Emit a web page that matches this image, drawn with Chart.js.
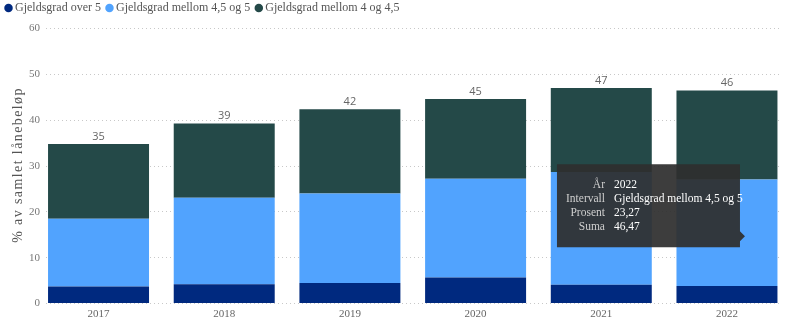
<!DOCTYPE html>
<html>
<head>
<meta charset="utf-8">
<script src="https://cdn.jsdelivr.net/npm/chart.js@4/dist/chart.umd.min.js"></script>
<style>
  html, body { margin: 0; padding: 0; background: #fff; }
  #wrap { width: 800px; height: 325px; position: relative; }
</style>
</head>
<body>
<div id="wrap"><canvas id="c" width="800" height="325"></canvas></div>
<script>
const years = ['2017', '2018', '2019', '2020', '2021', '2022'];
const seriesNames = ['Gjeldsgrad over 5', 'Gjeldsgrad mellom 4,5 og 5', 'Gjeldsgrad mellom 4 og 4,5'];
const over5 = [3.7, 4.2, 4.5, 5.7, 4.1, 3.8];
const mellom45og5 = [14.8, 18.9, 19.5, 21.5, 24.6, 23.27];
const mellom4og45 = [16.3, 16.2, 18.4, 17.4, 18.3, 19.4];
const yTicks = [0, 10, 20, 30, 40, 50, 60];
const yTitle = '% av samlet lånebeløp';
const tooltipLabels = ['År', 'Intervall', 'Prosent', 'Suma'];
const tooltipYearIndex = 5;
const tooltipSeriesIndex = 1;

const colors = ['#00297f', '#51a3fe', '#244948'];
const SERIF = '"Liberation Serif", "Times New Roman", serif';
const SANS = '"Open Sans", "DejaVu Sans", sans-serif';

const fmt = v => v.toFixed(2).replace('.', ',');
const totals = years.map((_, i) => over5[i] + mellom45og5[i] + mellom4og45[i]);
const toPoints = arr => arr.map((v, i) => ({ x: i, y: v }));

const legendShift = {
  id: 'legendShift',
  afterLayout(chart) {
    const l = chart.legend;
    if (l) { l.top -= 4.5; l.bottom -= 4.5; }
  }
};

const yTitlePlugin = {
  id: 'yTitle',
  afterDraw(chart) {
    const ctx = chart.ctx;
    const ca = chart.chartArea;
    ctx.save();
    ctx.translate(18, (ca.top + ca.bottom) / 2 - 1);
    ctx.rotate(-Math.PI / 2);
    ctx.font = '14px ' + SERIF;
    if ('letterSpacing' in ctx) ctx.letterSpacing = '1.4px';
    ctx.fillStyle = '#555';
    ctx.textAlign = 'center';
    ctx.textBaseline = 'middle';
    ctx.fillText(yTitle, 0, 0);
    ctx.restore();
  }
};

const totalsPlugin = {
  id: 'totals',
  afterDatasetsDraw(chart) {
    const ctx = chart.ctx;
    const top = chart.getDatasetMeta(2).data;
    ctx.save();
    ctx.font = '11px ' + SANS;
    ctx.fillStyle = '#666';
    ctx.textAlign = 'center';
    ctx.textBaseline = 'bottom';
    top.forEach((el, i) => {
      ctx.fillText(String(Math.round(totals[i])), el.x, el.y - 2);
    });
    ctx.restore();
  }
};

const tipPlugin = {
  id: 'statictip',
  afterDraw(chart) {
    const el = chart.getDatasetMeta(tooltipSeriesIndex).data[tooltipYearIndex];
    const ctx = chart.ctx;
    const tipX = el.x + 18;
    const tipY = (el.y + el.base) / 2 + 3.5;
    const right = tipX - 5, left = right - 183, top = tipY - 72, bottom = tipY + 11;
    ctx.save();
    ctx.fillStyle = 'rgba(46,46,46,0.93)';
    ctx.beginPath();
    ctx.moveTo(left, top);
    ctx.lineTo(right, top);
    ctx.lineTo(right, tipY - 5);
    ctx.lineTo(tipX, tipY);
    ctx.lineTo(right, tipY + 5);
    ctx.lineTo(right, bottom);
    ctx.lineTo(left, bottom);
    ctx.closePath();
    ctx.fill();
    const values = [years[tooltipYearIndex], seriesNames[tooltipSeriesIndex],
      fmt(mellom45og5[tooltipYearIndex]), fmt(totals[tooltipYearIndex])];
    ctx.font = '11.5px ' + SERIF;
    ctx.textBaseline = 'middle';
    tooltipLabels.forEach((lab, k) => {
      const y = top + 21 + k * 14;
      ctx.textAlign = 'right';
      ctx.fillStyle = '#cfcfcf';
      ctx.fillText(lab, left + 48, y);
      ctx.textAlign = 'left';
      ctx.fillStyle = '#ffffff';
      ctx.fillText(values[k], left + 57, y);
    });
    ctx.restore();
  }
};

new Chart(document.getElementById('c'), {
  type: 'bar',
  data: {
    datasets: [
      { label: seriesNames[0], data: toPoints(over5), backgroundColor: colors[0] },
      { label: seriesNames[1], data: toPoints(mellom45og5), backgroundColor: colors[1] },
      { label: seriesNames[2], data: toPoints(mellom4og45), backgroundColor: colors[2] }
    ]
  },
  options: {
    responsive: false,
    animation: false,
    devicePixelRatio: 1,
    layout: { padding: { top: -1.5, right: 21, bottom: 0, left: 0 } },
    datasets: { bar: { categoryPercentage: 1, barPercentage: 0.8035, borderWidth: 0 } },
    plugins: {
      legend: {
        position: 'top',
        align: 'start',
        labels: {
          usePointStyle: true,
          pointStyle: 'circle',
          boxWidth: 1,
          boxHeight: 6,
          padding: 8,
          color: '#555',
          font: { family: SERIF, size: 12 }
        }
      },
      tooltip: { enabled: false }
    },
    scales: {
      x: {
        type: 'linear',
        stacked: true,
        bounds: 'data',
        offset: false,
        min: -0.418,
        max: 5.414,
        afterDataLimits: s => { s.min = -0.418; s.max = 5.414; },
        afterBuildTicks: s => { s.ticks = years.map((_, i) => ({ value: i })); },
        afterFit: s => { s.height = 21.5; },
        grid: { display: false, drawTicks: false },
        border: { display: false },
        ticks: {
          color: '#666',
          font: { family: SERIF, size: 11 },
          padding: 4,
          callback: v => years[Math.round(v)]
        }
      },
      y: {
        stacked: true,
        min: 0,
        max: 60,
        afterBuildTicks: s => { s.ticks = yTicks.map(v => ({ value: v })); },
        afterFit: s => { s.width = 46; },
        grid: { color: '#c8c8c8', lineWidth: 1, drawTicks: false },
        border: { display: false, dash: [1, 3] },
        ticks: { color: '#777', font: { family: SERIF, size: 11 }, padding: 6 },
        title: { display: false }
      }
    }
  },
  plugins: [legendShift, totalsPlugin, tipPlugin, yTitlePlugin]
});
</script>
</body>
</html>
